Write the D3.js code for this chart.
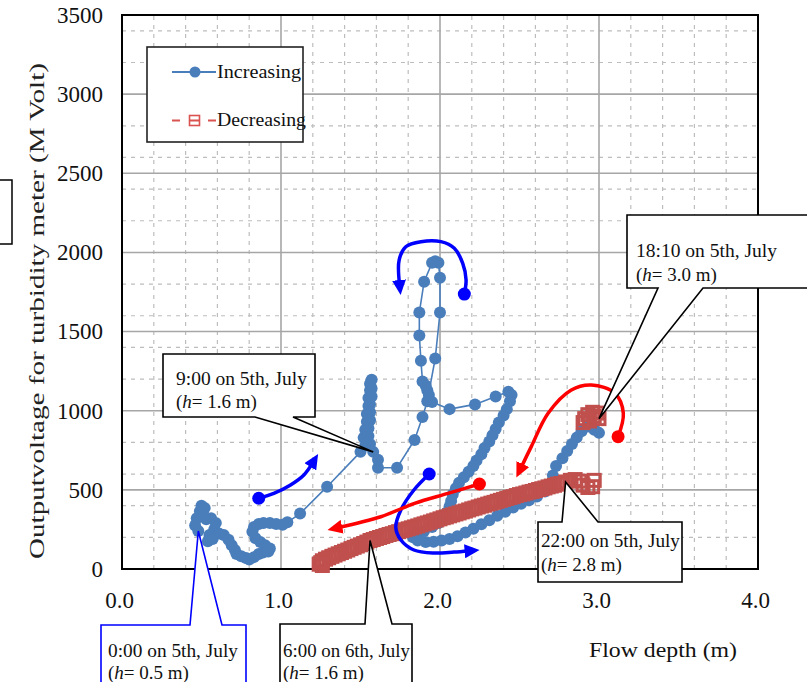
<!DOCTYPE html>
<html>
<head>
<meta charset="utf-8">
<script src="https://cdn.jsdelivr.net/npm/d3@7"></script>
<style>
  html, body { margin: 0; padding: 0; background: #fff; }
  svg { display: block; font-family: "Liberation Serif", "Times New Roman", serif; }
</style>
</head>
<body>
<svg id="chart" width="807" height="682"></svg>
<script>
// ---- data: [flow depth (m), output voltage (mV)] ----
const increasing = [
  [0.48,240],[0.46,275],[0.47,320],[0.49,365],[0.50,400],[0.52,385],[0.51,345],[0.53,315],
  [0.56,320],[0.59,290],[0.58,250],[0.55,215],[0.54,175],[0.57,190],[0.61,225],[0.64,215],
  [0.67,185],[0.69,150],[0.71,120],[0.72,95],[0.75,80],[0.78,70],[0.80,60],[0.83,75],
  [0.86,95],[0.89,105],[0.92,110],[0.93,130],[0.90,150],[0.87,170],[0.84,195],[0.82,235],
  [0.83,265],[0.86,285],[0.89,290],[0.93,290],[0.97,285],[1.01,280],[1.04,295],[1.12,350],
  [1.29,520],[1.50,740],[1.53,780],[1.52,830],[1.53,880],[1.54,930],[1.54,980],[1.55,1030],
  [1.55,1080],[1.56,1130],[1.56,1170],[1.57,1195],[1.57,1140],[1.57,1090],[1.56,1040],[1.56,990],
  [1.56,940],[1.55,890],[1.55,840],[1.56,790],[1.58,740],[1.61,690],[1.61,640],[1.73,640],
  [1.84,815],[1.89,960],[1.92,1060],[1.97,1330],[2.00,1620],[2.00,1840],[1.99,1935],[1.97,1945],
  [1.95,1935],[1.90,1815],[1.87,1620],[1.87,1475],[1.88,1315],[1.89,1185],[1.91,1160],[1.92,1130],
  [1.93,1100],[1.95,1055],[2.06,1010],[2.22,1040],[2.35,1090],[2.43,1120],[2.45,1100],[2.44,1060],
  [2.42,1010],[2.40,970],[2.37,925],[2.35,885],[2.33,845],[2.31,805],[2.28,765],[2.26,725],
  [2.23,685],[2.21,650],[2.18,615],[2.15,580],[2.12,545],[2.10,510],[2.08,470],[2.07,430],
  [2.06,395],[2.04,355],[2.02,320],[1.99,290],[1.95,265],[1.90,240],[1.86,215],[1.83,200],
  [1.86,180],[1.91,170],[1.96,172],[2.01,180],[2.06,190],[2.11,207],[2.16,230],[2.21,255],
  [2.26,282],[2.31,308],[2.36,337],[2.41,362],[2.46,388],[2.51,412],[2.56,434],[2.61,458],
  [2.66,490],[2.69,525],[2.71,590],[2.73,650],[2.77,700],[2.80,745],[2.83,790],[2.86,830],
  [2.89,870],[2.93,900],[2.97,880],[3.00,860]
];
const decreasing = [
  [3.00,950],[2.99,985],[2.96,990],[2.93,975],[2.91,950],[2.90,925],[2.94,935],[2.97,965],
  [2.97,560],[2.96,520],[2.93,515],[2.90,530],[2.88,555],[2.85,565],[2.82,560],[2.79,550],
  [2.76,540],[2.74,536],[2.72,529],[2.70,524],[2.68,519],[2.66,512],[2.64,507],[2.62,502],
  [2.60,496],[2.58,490],[2.56,486],[2.54,480],[2.52,474],[2.50,470],[2.48,464],[2.46,457],
  [2.44,452],[2.42,446],[2.40,440],[2.38,434],[2.36,428],[2.34,421],[2.32,416],[2.30,410],
  [2.28,403],[2.26,398],[2.24,392],[2.22,385],[2.20,380],[2.18,373],[2.16,366],[2.14,361],
  [2.12,354],[2.10,348],[2.08,342],[2.06,336],[2.04,329],[2.02,324],[2.00,317],[1.98,310],
  [1.96,304],[1.94,297],[1.92,291],[1.90,285],[1.88,279],[1.86,272],[1.84,266],[1.82,260],
  [1.80,254],[1.78,248],[1.76,242],[1.74,236],[1.72,230],[1.70,223],[1.68,218],[1.66,212],
  [1.64,205],[1.62,199],[1.60,193],[1.58,186],[1.56,180],[1.54,170],[1.52,161],[1.50,153],
  [1.48,145],[1.46,137],[1.44,129],[1.42,120],[1.40,112],[1.38,104],[1.36,96],[1.34,88],
  [1.32,80],[1.30,71],[1.28,62],[1.26,52],[1.25,40],[1.24,30],[1.26,22]
];
const xTickValues = [0, 1, 2, 3, 4];
const yTickValues = [0, 500, 1000, 1500, 2000, 2500, 3000, 3500];
const seriesNames = ["Increasing", "Decreasing"];
const xTitle = "Flow depth (m)";
const yTitle = "Outputvoltage for turbidity meter (M Volt)";

// direction arrows drawn over the data, in data units
const arrows = [
  { color: "#0000ff", pts: [[0.86,447],[0.955,478],[1.06,531],[1.144,594],[1.197,667]] },
  { color: "#0000ff", pts: [[2.153,1737],[2.164,1826],[2.143,1931],[2.09,2026],[2.006,2068],[1.88,2068],[1.785,2036],[1.743,1952],[1.745,1800]] },
  { color: "#0000ff", pts: [[1.932,600],[1.836,499],[1.754,373],[1.722,265],[1.754,183],[1.836,120],[1.962,101],[2.088,107],[2.18,114]] },
  { color: "#ff0000", pts: [[2.248,537],[2.05,478],[1.84,415],[1.628,330],[1.36,262]] },
  { color: "#ff0000", pts: [[3.12,836],[3.153,984],[3.1,1110],[2.953,1162],[2.826,1131],[2.68,984],[2.574,773],[2.51,640]] }
];

const at = (s, h, v) => s.find(d => d[0] === h && d[1] === v);
// time callouts: label lines, the point they mark, box and pointer base (px)
const callouts = [
  { l1: "0:00 on 5th, July", h: "0.5", target: increasing[0], box: [101,625,246,705], base: [190,222], side: "top", color: "#0000ff", tx: 108, b1: 657, b2: 679, w1: 130 },
  { l1: "9:00 on 5th, July", h: "1.6", target: at(increasing, 1.58, 740), box: [163,354,315,417], base: [255,293], side: "bottom", color: "#000", tx: 176, b1: 385, b2: 408, w1: 131 },
  { l1: "18:10 on 5th, July", h: "3.0", target: decreasing[0], box: [627,215,830,288], base: [658,703], side: "bottom", color: "#000", tx: 636, b1: 257, b2: 281, w1: 141 },
  { l1: "22:00 on 5th, July", h: "2.8", target: at(decreasing, 2.79, 550), box: [538,522,682,582], base: [562,598], side: "top", color: "#000", tx: 541, b1: 547, b2: 571, w1: 139 },
  { l1: "6:00 on 6th, July", h: "1.6", target: at(decreasing, 1.56, 180), box: [280,624,412,705], base: [365,392], side: "top", color: "#000", tx: 283, b1: 657, b2: 679, w1: 127 }
];

const BLUE = "#4a7ebb", RED = "#c0504d";
const svg = d3.select("#chart");
const x = d3.scaleLinear().domain([0, 4]).range([122, 758]);
const y = d3.scaleLinear().domain([0, 3500]).range([569, 15]);

// grid
const grid = svg.append("g");
grid.selectAll(".vmin").data(x.ticks(20).filter(d => Math.abs(d - Math.round(d)) > 1e-6))
  .join("line").attr("x1", d => x(d)).attr("x2", d => x(d)).attr("y1", y(0)).attr("y2", y(3500))
  .attr("stroke", "#bdbdbd").attr("stroke-width", 1.2).attr("stroke-dasharray", "4,5");
grid.selectAll(".hmin").data(y.ticks(14).filter(d => d % 500 !== 0))
  .join("line").attr("x1", x(0)).attr("x2", x(4)).attr("y1", d => y(d)).attr("y2", d => y(d))
  .attr("stroke", "#bdbdbd").attr("stroke-width", 1.2).attr("stroke-dasharray", "4,5");
grid.selectAll(".vmaj").data(xTickValues.slice(1, -1))
  .join("line").attr("x1", d => x(d)).attr("x2", d => x(d)).attr("y1", y(0)).attr("y2", y(3500))
  .attr("stroke", "#a6a6a6").attr("stroke-width", 1.6);
grid.selectAll(".hmaj").data(yTickValues.slice(1, -1))
  .join("line").attr("x1", x(0)).attr("x2", x(4)).attr("y1", d => y(d)).attr("y2", d => y(d))
  .attr("stroke", "#a6a6a6").attr("stroke-width", 1.6);

// plot frame
svg.append("rect").attr("x", x(0)).attr("y", y(3500)).attr("width", x(4) - x(0)).attr("height", y(0) - y(3500))
  .attr("fill", "none").attr("stroke", "#000").attr("stroke-width", 2);

// axes labels
const gx = svg.append("g").attr("transform", `translate(0,${y(0)})`)
  .call(d3.axisBottom(x).tickValues(xTickValues).tickFormat(d3.format(".1f")).tickSize(0));
gx.select(".domain").remove();
gx.selectAll("text").attr("y", 39).attr("dy", 0).attr("dx", -3)
  .attr("font-family", "Liberation Serif").attr("font-size", 23).attr("fill", "#111");
const gy = svg.append("g").attr("transform", `translate(${x(0)},0)`)
  .call(d3.axisLeft(y).tickValues(yTickValues).tickFormat(d3.format("d")).tickSize(0).tickPadding(19));
gy.select(".domain").remove();
gy.selectAll("text").attr("font-family", "Liberation Serif").attr("font-size", 23).attr("fill", "#111");

// axis titles
svg.append("text").attr("x", 589).attr("y", 657).attr("font-size", 21).attr("fill", "#111")
  .attr("textLength", 148).attr("lengthAdjust", "spacingAndGlyphs").text(xTitle);
svg.append("text").attr("transform", "translate(44,311) rotate(-90)").attr("text-anchor", "middle")
  .attr("font-size", 20).attr("fill", "#222")
  .attr("textLength", 496).attr("lengthAdjust", "spacingAndGlyphs").text(yTitle);

// stray frame at the left edge
svg.append("rect").attr("x", -2).attr("y", 180).attr("width", 14).attr("height", 64)
  .attr("fill", "#fff").attr("stroke", "#000").attr("stroke-width", 1.5);

// series: increasing (line + filled circles)
const line = d3.line().x(d => x(d[0])).y(d => y(d[1]));
svg.append("path").datum(increasing).attr("d", line).attr("fill", "none")
  .attr("stroke", BLUE).attr("stroke-width", 1.6);
svg.append("g").selectAll("circle").data(increasing).join("circle")
  .attr("cx", d => x(d[0])).attr("cy", d => y(d[1])).attr("r", 6).attr("fill", BLUE);

// series: decreasing (hollow squares)
const sq = 12;
svg.append("g").selectAll("rect").data(decreasing).join("rect")
  .attr("x", d => x(d[0]) - sq / 2).attr("y", d => y(d[1]) - sq / 2).attr("width", sq).attr("height", sq)
  .attr("fill", "none").attr("stroke", RED).attr("stroke-width", 3);

// direction arrows
const defs = svg.append("defs");
["#0000ff", "#ff0000"].forEach((c, i) => {
  defs.append("marker").attr("id", "ah" + i).attr("markerUnits", "userSpaceOnUse")
    .attr("markerWidth", 16).attr("markerHeight", 14).attr("refX", 4).attr("refY", 7)
    .attr("orient", "auto")
    .append("path").attr("d", "M0,0L15,7L0,14Z").attr("fill", c);
});
const curve = d3.line().x(d => x(d[0])).y(d => y(d[1])).curve(d3.curveCatmullRom.alpha(0.5));
arrows.forEach(a => {
  const idx = a.color === "#0000ff" ? 0 : 1;
  svg.append("path").attr("d", curve(a.pts)).attr("fill", "none").attr("stroke", a.color)
    .attr("stroke-width", 3.5).attr("marker-end", `url(#ah${idx})`);
  svg.append("circle").attr("cx", x(a.pts[0][0])).attr("cy", y(a.pts[0][1])).attr("r", 6.5).attr("fill", a.color);
});

// callouts
callouts.forEach(c => {
  const [x0, y0, x1, y1] = c.box, [a, b] = c.base;
  const tx = x(c.target[0]), ty = y(c.target[1]);
  const d = c.side === "bottom"
    ? `M${x0},${y0}H${x1}V${y1}H${b}L${tx},${ty}L${a},${y1}H${x0}Z`
    : `M${x0},${y0}H${a}L${tx},${ty}L${b},${y0}H${x1}V${y1}H${x0}Z`;
  svg.append("path").attr("d", d).attr("fill", "#fff").attr("stroke", c.color).attr("stroke-width", 1.6);
  svg.append("text").attr("x", c.tx).attr("y", c.b1).attr("font-size", 19).attr("fill", "#111")
    .attr("textLength", c.w1).attr("lengthAdjust", "spacingAndGlyphs").text(c.l1);
  const t2 = svg.append("text").attr("x", c.tx).attr("y", c.b2).attr("font-size", 19).attr("fill", "#111");
  t2.append("tspan").text("(");
  t2.append("tspan").attr("font-style", "italic").text("h");
  t2.append("tspan").text(`= ${c.h} m)`);
});

// legend
const lg = svg.append("g");
lg.append("rect").attr("x", 147).attr("y", 47).attr("width", 156).attr("height", 95)
  .attr("fill", "#fff").attr("stroke", "#222").attr("stroke-width", 1.6);
lg.append("line").attr("x1", 172).attr("x2", 216).attr("y1", 72).attr("y2", 72)
  .attr("stroke", BLUE).attr("stroke-width", 1.8);
lg.append("circle").attr("cx", 195).attr("cy", 72).attr("r", 5.5).attr("fill", BLUE);
lg.append("line").attr("x1", 172).attr("x2", 216).attr("y1", 120.5).attr("y2", 120.5)
  .attr("stroke", "#d9534f").attr("stroke-width", 1.8).attr("stroke-dasharray", "8,9,10,9,8");
lg.append("rect").attr("x", 189.5).attr("y", 115.5).attr("width", 10).attr("height", 10)
  .attr("fill", "none").attr("stroke", "#d9534f").attr("stroke-width", 1.6);
lg.append("text").attr("x", 217).attr("y", 78).attr("font-size", 19).attr("fill", "#111")
  .attr("textLength", 84).attr("lengthAdjust", "spacingAndGlyphs").text(seriesNames[0]);
lg.append("text").attr("x", 217).attr("y", 126).attr("font-size", 19).attr("fill", "#111")
  .attr("textLength", 89).attr("lengthAdjust", "spacingAndGlyphs").text(seriesNames[1]);
</script>
</body>
</html>
